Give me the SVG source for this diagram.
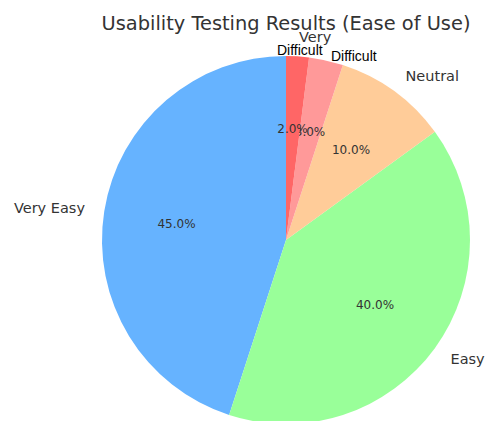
<svg xmlns="http://www.w3.org/2000/svg" width="486" height="421" viewBox="0 0 486 421">
<style>
.t{font-family:"DejaVu Sans",sans-serif;fill:#333}
.lab{font-size:14.5px}
.pct{font-size:12px;text-anchor:middle}
.ar{font-family:"Liberation Sans",Arial,sans-serif;font-size:14px;fill:#000}
</style>
<rect width="486" height="421" fill="#fff"/>
<text class="t" x="286" y="30" font-size="19.4" text-anchor="middle">Usability Testing Results (Ease of Use)</text>
<g id="connectors"/>
<g id="very-easy">
<path d="M286,240 L286,56 A184,184 0 0 0 229.14,415 Z" fill="#66b3ff"/>
<text class="t lab" x="85" y="213" text-anchor="end">Very Easy</text>
<text class="t pct" x="176.5" y="227.5">45.0%</text>
</g>
<g id="easy">
<path d="M286,240 L229.14,415 A184,184 0 0 0 434.86,131.85 Z" fill="#99ff99"/>
<text class="t lab" x="450.5" y="364">Easy</text>
<text class="t pct" x="375" y="309">40.0%</text>
</g>
<g id="neutral">
<path d="M286,240 L434.86,131.85 A184,184 0 0 0 342.86,65 Z" fill="#ffcc99"/>
<text class="t lab" x="405.5" y="80.5">Neutral</text>
<text class="t pct" x="351" y="154">10.0%</text>
</g>
<g id="difficult">
<path d="M286,240 L342.86,65 A184,184 0 0 0 309.06,57.45 Z" fill="#ff9999"/>
<text class="ar" x="331" y="61">Difficult</text>
<text class="t pct" x="310" y="136">3.0%</text>
</g>
<g id="very-difficult">
<path d="M286,240 L309.06,57.45 A184,184 0 0 0 286,56 Z" fill="#ff6666"/>
<text class="t lab" x="299" y="42">Very</text>
<text class="ar" x="277" y="54.5">Difficult</text>
<text class="t pct" x="292.5" y="133">2.0%</text>
</g>
</svg>
